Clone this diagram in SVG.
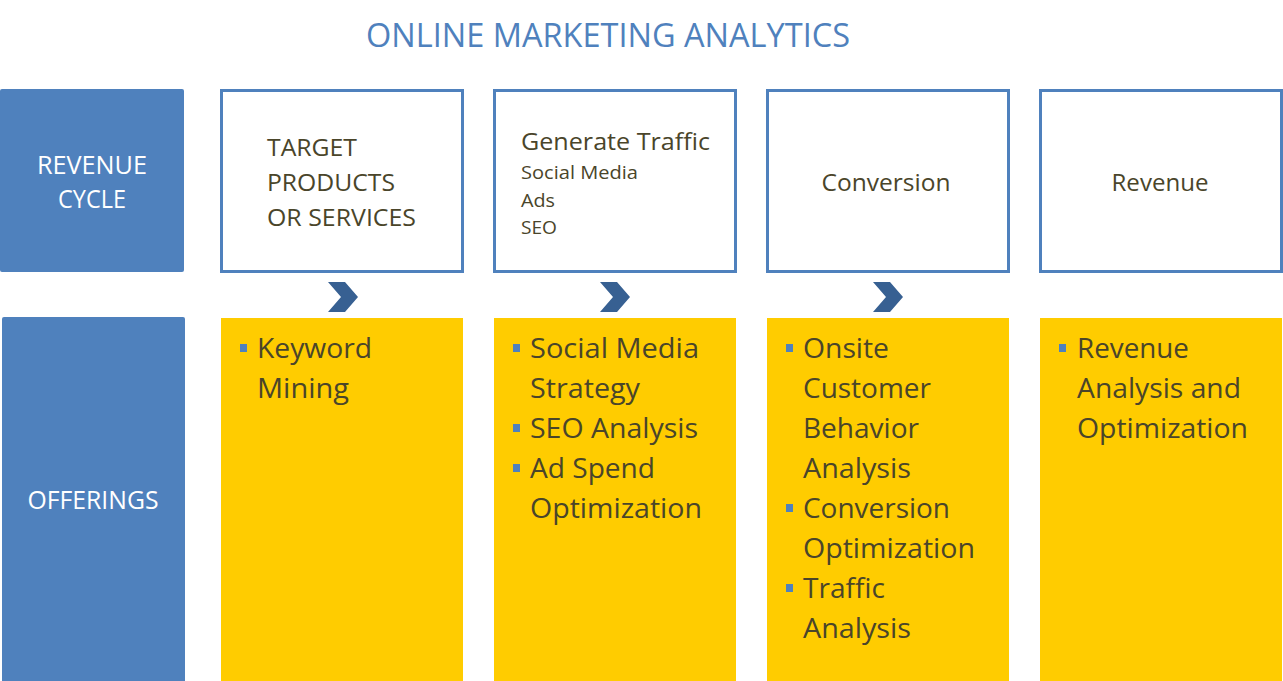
<svg xmlns="http://www.w3.org/2000/svg" width="1283" height="681" viewBox="0 0 1283 681">
<style>
  text { font-family: "Open Sans", "Liberation Sans", sans-serif; }
  .side { fill: #4F81BD; }
  .stage { fill: #FFFFFF; stroke: #4F81BD; stroke-width: 3; }
  .offer { fill: #FFCC00; }
  .wt { fill: #FFFFFF; font-size: 25px; }
  .dk { fill: #4A452A; }
  .t25 { font-size: 24px; }
  .t20 { font-size: 19px; }
  .b28 { font-size: 27px; }
  .bul { fill: #4F81BD; }
  .chev { fill: #376092; }
</style>
<rect width="1283" height="681" fill="#FFFFFF"/>
<text x="366" y="47" font-size="32" fill="#4F81BD" textLength="484" lengthAdjust="spacingAndGlyphs">ONLINE MARKETING ANALYTICS</text>

<g id="revenue-cycle">
  <rect class="side" x="0" y="89" width="184" height="183" rx="2"/>
  <text class="wt" x="92" y="174" text-anchor="middle" textLength="110" lengthAdjust="spacingAndGlyphs">REVENUE</text>
  <text class="wt" x="92" y="208" text-anchor="middle" textLength="68" lengthAdjust="spacingAndGlyphs">CYCLE</text>
</g>
<g id="offerings">
  <rect class="side" x="2" y="317" width="183" height="370" rx="2"/>
  <text class="wt" x="93" y="509" text-anchor="middle" textLength="131" lengthAdjust="spacingAndGlyphs">OFFERINGS</text>
</g>

<g id="stage-target">
  <rect class="stage" x="221.5" y="90.5" width="241" height="181"/>
  <text class="dk t25" x="267" y="156" textLength="90" lengthAdjust="spacingAndGlyphs">TARGET</text>
  <text class="dk t25" x="267" y="191" textLength="128" lengthAdjust="spacingAndGlyphs">PRODUCTS</text>
  <text class="dk t25" x="267" y="226" textLength="149" lengthAdjust="spacingAndGlyphs">OR SERVICES</text>
</g>
<g id="stage-traffic">
  <rect class="stage" x="494.5" y="90.5" width="241" height="181"/>
  <text class="dk t25" x="521" y="150" textLength="189" lengthAdjust="spacingAndGlyphs">Generate Traffic</text>
  <text class="dk t20" x="521" y="179" textLength="117" lengthAdjust="spacingAndGlyphs">Social Media</text>
  <text class="dk t20" x="521" y="207" textLength="34" lengthAdjust="spacingAndGlyphs">Ads</text>
  <text class="dk t20" x="521" y="234" textLength="36" lengthAdjust="spacingAndGlyphs">SEO</text>
</g>
<g id="stage-conversion">
  <rect class="stage" x="767.5" y="90.5" width="241" height="181"/>
  <text class="dk t25" x="886" y="191" text-anchor="middle" textLength="129" lengthAdjust="spacingAndGlyphs">Conversion</text>
</g>
<g id="stage-revenue">
  <rect class="stage" x="1040.5" y="90.5" width="241" height="181"/>
  <text class="dk t25" x="1160" y="191" text-anchor="middle" textLength="97" lengthAdjust="spacingAndGlyphs">Revenue</text>
</g>

<g id="connectors">
  <polygon class="chev" points="328,282 345,282 358,297 345,312 328,312 341,297"/>
  <polygon class="chev" points="600,282 617,282 630,297 617,312 600,312 613,297"/>
  <polygon class="chev" points="873,282 890,282 903,297 890,312 873,312 886,297"/>
</g>

<g id="offer-keyword">
  <rect class="offer" x="221" y="318" width="242" height="363"/>
  <rect class="bul" x="240" y="344" width="7" height="8"/>
  <text class="dk b28" x="257" y="358" textLength="115" lengthAdjust="spacingAndGlyphs">Keyword</text>
  <text class="dk b28" x="257" y="398" textLength="92" lengthAdjust="spacingAndGlyphs">Mining</text>
</g>
<g id="offer-traffic">
  <rect class="offer" x="494" y="318" width="242" height="363"/>
  <rect class="bul" x="513" y="344" width="7" height="8"/>
  <text class="dk b28" x="530" y="358" textLength="169" lengthAdjust="spacingAndGlyphs">Social Media</text>
  <text class="dk b28" x="530" y="398" textLength="110" lengthAdjust="spacingAndGlyphs">Strategy</text>
  <rect class="bul" x="513" y="424" width="7" height="8"/>
  <text class="dk b28" x="530" y="438" textLength="168" lengthAdjust="spacingAndGlyphs">SEO Analysis</text>
  <rect class="bul" x="513" y="464" width="7" height="8"/>
  <text class="dk b28" x="530" y="478" textLength="125" lengthAdjust="spacingAndGlyphs">Ad Spend</text>
  <text class="dk b28" x="530" y="518" textLength="172" lengthAdjust="spacingAndGlyphs">Optimization</text>
</g>
<g id="offer-conversion">
  <rect class="offer" x="767" y="318" width="242" height="363"/>
  <rect class="bul" x="786" y="344" width="7" height="8"/>
  <text class="dk b28" x="803" y="358" textLength="86" lengthAdjust="spacingAndGlyphs">Onsite</text>
  <text class="dk b28" x="803" y="398" textLength="128" lengthAdjust="spacingAndGlyphs">Customer</text>
  <text class="dk b28" x="803" y="438" textLength="116" lengthAdjust="spacingAndGlyphs">Behavior</text>
  <text class="dk b28" x="803" y="478" textLength="108" lengthAdjust="spacingAndGlyphs">Analysis</text>
  <rect class="bul" x="786" y="504" width="7" height="8"/>
  <text class="dk b28" x="803" y="518" textLength="147" lengthAdjust="spacingAndGlyphs">Conversion</text>
  <text class="dk b28" x="803" y="558" textLength="172" lengthAdjust="spacingAndGlyphs">Optimization</text>
  <rect class="bul" x="786" y="584" width="7" height="8"/>
  <text class="dk b28" x="803" y="598" textLength="82" lengthAdjust="spacingAndGlyphs">Traffic</text>
  <text class="dk b28" x="803" y="638" textLength="108" lengthAdjust="spacingAndGlyphs">Analysis</text>
</g>
<g id="offer-revenue">
  <rect class="offer" x="1040" y="318" width="242" height="363"/>
  <rect class="bul" x="1059" y="344" width="7" height="8"/>
  <text class="dk b28" x="1077" y="358" textLength="112" lengthAdjust="spacingAndGlyphs">Revenue</text>
  <text class="dk b28" x="1077" y="398" textLength="164" lengthAdjust="spacingAndGlyphs">Analysis and</text>
  <text class="dk b28" x="1077" y="438" textLength="171" lengthAdjust="spacingAndGlyphs">Optimization</text>
</g>
</svg>
